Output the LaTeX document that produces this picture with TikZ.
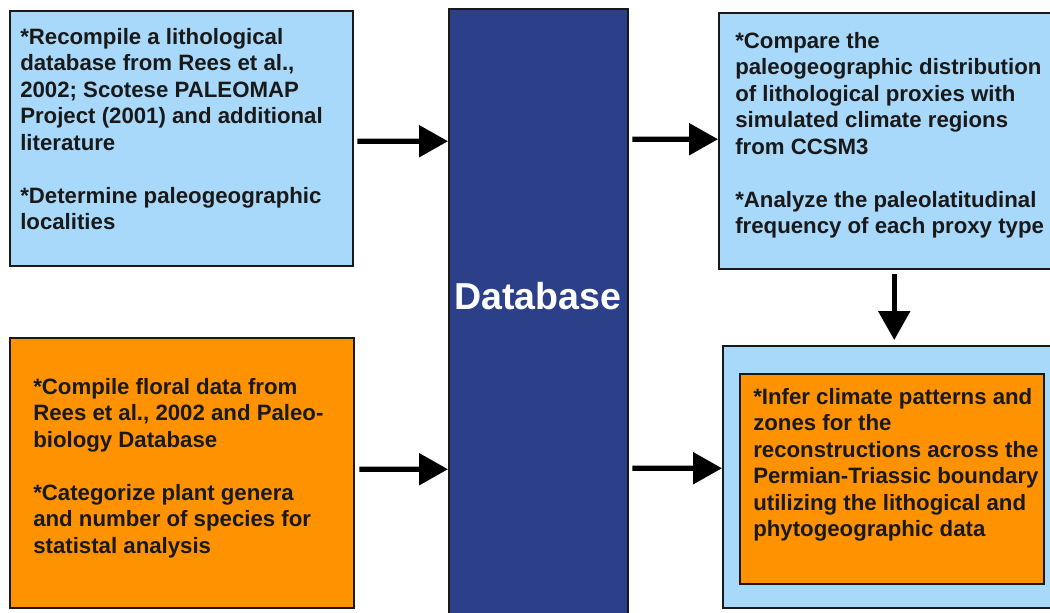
\documentclass[tikz,border=0pt]{standalone}
\usepackage{fontspec}
\setmainfont{Liberation Sans}
\usetikzlibrary{arrows.meta, positioning}

\definecolor{skyblue}{RGB}{168,216,250}
\definecolor{amber}{RGB}{255,146,0}
\definecolor{navy}{RGB}{43,64,136}
\definecolor{edge}{RGB}{25,25,25}

\begin{document}
\begin{tikzpicture}[x=0.025cm, y=-0.025cm,
    box/.style={rectangle, draw=edge, line width=1.7pt, inner sep=0pt, anchor=north west},
    txt/.style={anchor=north west, inner sep=0pt, align=left, text=black!90, font=\bfseries\fontsize{15.8}{18.85}\selectfont},
    arr/.style={line width=3.6pt, -{Triangle[length=20.5pt, width=22pt]}}]
    \clip (0,0) rectangle (1050,612);

    \node[box, fill=skyblue, minimum width=8.575cm, minimum height=6.375cm] (lith) at (9,10) {};
    \node[box, fill=amber, minimum width=8.6cm, minimum height=6.75cm] (flora) at (9,337) {};
    \node[box, fill=navy, minimum width=4.475cm, minimum height=15.425cm] (db) at (448,8) {};
    \node[box, fill=skyblue, minimum width=8.75cm, minimum height=6.4cm] (compare) at (718,12) {};
    \node[box, fill=skyblue, minimum width=8.65cm, minimum height=6.55cm] (infer) at (722,345) {};
    \node[box, fill=amber, minimum width=7.6cm, minimum height=5.25cm] (zones) at (739,373) {};

    \node[txt] (lithtext) at ([shift={(11,18)}]lith.north west) {*Recompile a lithological\\
    database from Rees et al.,\\ 2002; Scotese PALEOMAP\\ Project (2001) and additional\\
    literature\\[18.85pt] *Determine paleogeographic\\ localities};
    \node[txt] (floratext) at ([shift={(24,41)}]flora.north west) {*Compile floral data from\\
    Rees et al., 2002 and Paleo-\\ biology Database\\[18.85pt] *Categorize plant genera\\
    and number of species for\\ statistal analysis};
    \node[txt] (comparetext) at ([shift={(17,20)}]compare.north west) {*Compare the\\
    paleogeographic distribution\\ of lithological proxies with\\ simulated climate regions\\
    from CCSM3\\[18.85pt] *Analyze the paleolatitudinal\\ frequency of each proxy type};
    \node[txt] (zonestext) at ([shift={(14,15)}]zones.north west) {*Infer climate patterns and\\
    zones for the\\ reconstructions across the\\ Permian-Triassic boundary\\
    utilizing the lithogical and\\ phytogeographic data};
    \node[font=\bfseries\fontsize{26.7}{32}\selectfont, text=white, inner sep=0pt] (dbname) at (537.5,296) {Database};

    \draw[arr] ([shift={(3,2.5)}]lith.east) -- ([yshift=-0.0625cm]lith.east -| db.west);
    \draw[arr] ([shift={(4,-4)}]flora.east) -- ([yshift=0.1cm]flora.east -| db.west);
    \draw[arr] ([shift={(3,-2)}]db.east |- compare.west) -- ([yshift=0.05cm]compare.west);
    \draw[arr] ([shift={(3,-5)}]db.east |- flora.east) -- ([yshift=0.125cm]flora.east -| infer.west);
    \draw[arr] ([yshift=-0.1cm]compare.south) -- ([yshift=0.125cm]infer.north -| compare.south);
\end{tikzpicture}
\end{document}
